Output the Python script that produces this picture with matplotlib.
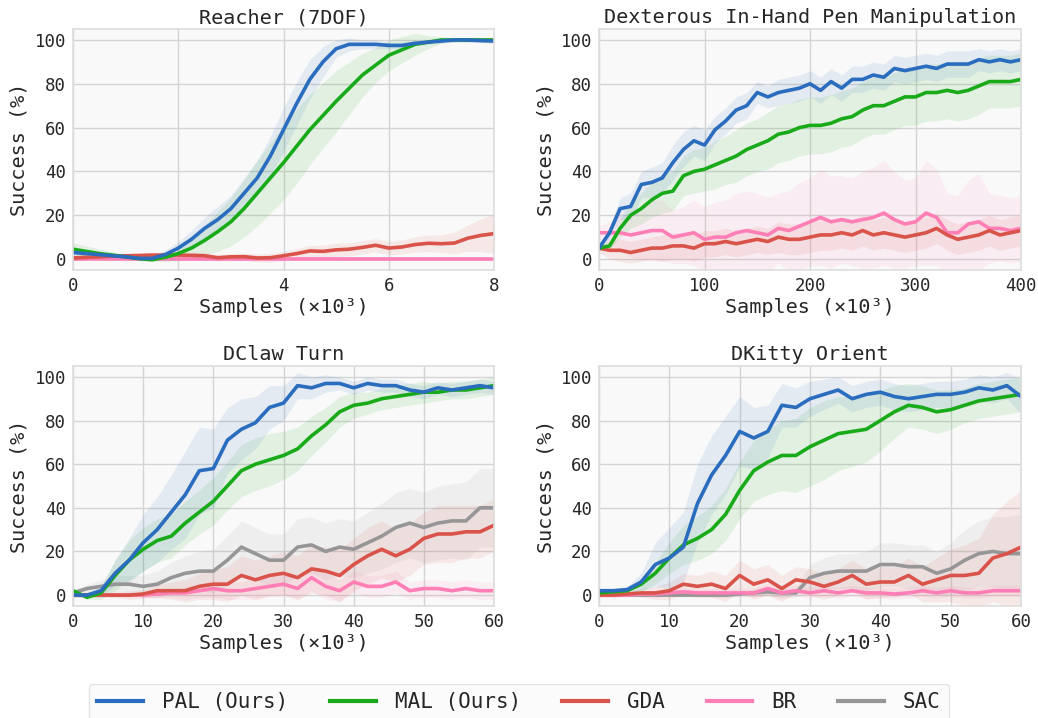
import matplotlib
matplotlib.use("Agg")
import matplotlib.pyplot as plt
import numpy as np

plt.rcParams['font.family'] = ['DejaVu Sans Mono', 'DejaVu Sans']
plt.rcParams['text.color'] = '#262626'
plt.rcParams['axes.labelcolor'] = '#262626'
plt.rcParams['xtick.color'] = '#262626'
plt.rcParams['ytick.color'] = '#262626'

methods = ['PAL (Ours)', 'MAL (Ours)', 'GDA', 'BR', 'SAC']
colors = ['#2a6cbe', '#19aa19', '#d9534a', '#ff7eb5', '#969696']

# ---- Reacher (7DOF), x in 1e3 samples, step 0.25
reach_x = np.arange(0, 8.01, 0.25)
reach_pal = [3, 2.5, 2, 1.5, 1, 0.3, 0.3, 2, 5, 9, 14, 18, 23, 30, 37, 47, 59, 71, 82, 90, 96,
             98, 98, 98, 97.5, 97.5, 98.5, 99, 99.5, 100, 100, 99.7, 99.5]
reach_pal_sd = [1, 1, 1, 1, 1, 0.5, 0.5, 2, 3, 4, 5, 6, 6, 7, 8, 9, 10, 10, 9, 7, 4,
                3, 2, 2, 1.5, 1.5, 1, 1, 1, 1, 1, 1, 1]
reach_mal = [4.5, 3.5, 2.5, 1.8, 1, 0.2, -0.3, 0.8, 2.5, 5, 8.5, 12.5, 17, 23, 30, 37, 44, 51.5, 59, 65.5, 72,
             78, 84, 88.5, 93, 95.5, 98, 99, 100, 100, 100, 100, 100]
reach_mal_sd = [3, 2.5, 2, 1.5, 1, 1, 1, 2, 3, 5, 7, 9, 11, 13, 15, 16, 17, 17, 16, 15, 14,
                12, 10, 8, 7, 6, 5, 3, 1.5, 1, 1, 1, 1]
reach_gda = [0.5, 0.8, 1, 1.3, 1.5, 1.6, 1.8, 1.8, 1.8, 1.7, 1.5, 0.6, 1, 1.1, 0.5, 0.6, 1.5, 2.5, 3.7, 3.5, 4.2,
             4.5, 5.3, 6.3, 5, 5.5, 6.6, 7.2, 7, 7.3, 9.5, 10.8, 11.6]
reach_gda_sd = [1, 1, 1, 1, 1, 1.2, 1.3, 1.4, 1.5, 1.5, 1.5, 1.5, 1.5, 1.6, 1.8, 2, 2, 2.2, 2.5, 2.8, 3,
                3, 3, 3, 3, 3.2, 3.5, 3.8, 4, 5, 6, 7.5, 9]
reach_br = [0] * 33
reach_br_sd = [0.7] * 33

# ---- Dexterous In-Hand Pen Manipulation, step 10
pen_x = np.arange(0, 401, 10)
pen_pal = [5, 12, 23, 24, 34, 35, 37, 44, 50, 54, 52, 59, 63, 68, 70, 76, 74, 76, 77, 78, 80,
           77, 81, 78, 82, 82, 84, 83, 87, 86, 87, 88, 87, 89, 89, 89, 91, 90, 91, 90, 91]
pen_pal_sd = [1, 3, 5, 6, 6, 7, 7, 8, 8, 7, 7, 6, 6, 6, 6, 5, 5, 6, 6, 6, 6,
              6, 6, 6, 6, 6, 6, 6, 6, 6, 6, 6, 6, 6, 6, 6, 5, 5, 5, 5, 5]
pen_mal = [5, 6, 14, 20, 23, 27, 30, 31, 38, 40, 41, 43, 45, 47, 50, 52, 54, 57, 58, 60, 61,
           61, 62, 64, 65, 68, 70, 70, 72, 74, 74, 76, 76, 77, 76, 77, 79, 81, 81, 81, 82]
pen_mal_sd = [1, 2, 4, 6, 7, 8, 9, 9, 9, 10, 10, 11, 11, 12, 12, 12, 13, 13, 13, 13, 13,
              13, 13, 13, 13, 13, 13, 13, 13, 13, 13, 13, 13, 13, 13, 13, 13, 12, 12, 12, 12]
pen_gda = [5, 4, 4, 3, 4, 5, 5, 6, 6, 5, 7, 7, 8, 7, 8, 9, 8, 10, 9, 9, 10,
           11, 11, 12, 11, 13, 11, 12, 11, 10, 11, 12, 14, 11, 9, 10, 11, 13, 11, 12, 13]
pen_gda_sd = [2, 4, 5, 5, 5, 5, 6, 6, 6, 6, 6, 6, 6, 6, 6, 6, 6, 7, 7, 7, 7,
              7, 7, 7, 7, 7, 7, 7, 7, 7, 7, 7, 7, 7, 7, 7, 7, 7, 7, 7, 7]
pen_br = [12, 12, 12, 11, 12, 13, 13, 10, 11, 12, 9, 10, 10, 12, 13, 12, 11, 14, 13, 15, 17,
          19, 17, 18, 17, 18, 19, 21, 18, 16, 17, 21, 19, 12, 12, 16, 17, 14, 14, 13, 14]
pen_br_sd = [3, 5, 8, 10, 12, 14, 14, 12, 13, 15, 15, 16, 17, 18, 18, 18, 17, 16, 18, 20, 20,
             22, 21, 20, 20, 22, 23, 24, 22, 20, 20, 24, 22, 18, 17, 20, 22, 16, 15, 15, 15]

# ---- DClaw Turn, step 2
claw_x = np.arange(0, 61, 2)
claw_pal = [0, 0, 2, 10, 16, 24, 30, 38, 46, 57, 58, 71, 76, 79, 86, 88,
            96, 95, 97, 97, 95, 97, 96, 96, 94, 93, 95, 94, 95, 96, 95]
claw_pal_sd = [1, 1, 2, 6, 10, 13, 15, 17, 20, 20, 18, 15, 14, 12, 10, 8,
               6, 5, 4, 3, 3, 3, 3, 3, 3, 3, 3, 3, 3, 3, 3]
claw_mal = [2, -1, 1, 9, 16, 21, 25, 27, 33, 38, 43, 50, 57, 60, 62, 64,
            67, 73, 78, 84, 87, 88, 90, 91, 92, 93, 93, 94, 94, 95, 96]
claw_mal_sd = [1, 1, 3, 7, 9, 10, 10, 10, 10, 10, 11, 11, 12, 12, 12, 11,
               10, 9, 8, 7, 6, 5, 5, 5, 5, 5, 4, 4, 4, 4, 4]
claw_gda = [0, 0, 0, 0, 0, 0.5, 2, 2, 2, 4, 5, 5, 9, 7, 9, 10,
            8, 12, 11, 9, 14, 18, 21, 18, 21, 26, 28, 28, 29, 29, 32]
claw_gda_sd = [1, 1, 1, 1, 2, 2, 3, 4, 5, 6, 7, 8, 9, 9, 9, 10,
               10, 11, 11, 12, 12, 13, 13, 12, 12, 12, 13, 13, 12, 12, 12]
claw_br = [0, 0, 0, 0, 0, 0, 0.5, 1, 1, 2, 3, 2, 2, 3, 4, 5,
           3, 8, 4, 2, 6, 4, 4, 6, 2, 3, 3, 2, 3, 2, 2]
claw_br_sd = [1, 1, 1, 1, 1, 1, 2, 2, 3, 3, 4, 4, 4, 5, 5, 5,
              5, 6, 6, 5, 5, 5, 5, 5, 4, 4, 4, 4, 4, 4, 4]
claw_sac = [1, 3, 4, 5, 5, 4, 5, 8, 10, 11, 11, 16, 22, 19, 16, 16,
            22, 23, 20, 22, 21, 24, 27, 31, 33, 31, 33, 34, 34, 40, 40]
claw_sac_sd = [1, 2, 3, 4, 4, 5, 6, 7, 8, 9, 10, 11, 12, 12, 12, 12,
               13, 13, 13, 13, 13, 14, 15, 16, 16, 16, 17, 17, 18, 18, 18]

# ---- DKitty Orient, step 2
kitty_x = np.arange(0, 61, 2)
kitty_pal = [2, 2, 2.5, 6, 14, 17, 22, 42, 55, 64, 75, 72, 75, 87, 86, 90,
             92, 94, 90, 92, 93, 91, 90, 91, 92, 92, 93, 95, 94, 96, 91]
kitty_pal_sd = [1, 1, 1.5, 4, 10, 14, 16, 18, 18, 18, 16, 14, 12, 10, 9, 8,
                7, 6, 6, 6, 6, 6, 6, 6, 6, 6, 6, 6, 6, 6, 8]
kitty_mal = [1, 1.5, 2, 5, 10, 17, 23, 26, 30, 37, 48, 57, 61, 64, 64, 68,
             71, 74, 75, 76, 80, 84, 87, 86, 84, 85, 87, 89, 90, 91, 92]
kitty_mal_sd = [1, 1, 1.5, 3, 5, 7, 9, 10, 11, 12, 13, 14, 15, 16, 17, 18,
                18, 17, 16, 15, 14, 12, 10, 10, 10, 9, 8, 8, 8, 8, 8]
kitty_gda = [0, 0, 0.5, 1, 1, 2, 5, 4, 5, 3, 9, 5, 7, 3, 7, 6,
             4, 6, 9, 5, 6, 6, 9, 5, 7, 9, 9, 10, 17, 19, 22]
kitty_gda_sd = [1, 1, 1, 2, 3, 4, 5, 5, 6, 6, 7, 7, 7, 6, 6, 6,
                6, 6, 7, 7, 7, 7, 8, 8, 10, 12, 14, 16, 20, 24, 26]
kitty_br = [0, 0, 0, 0.5, 0.5, 1, 1.5, 1, 1, 1, 1, 1, 3, 1, 2, 1,
            2, 1, 2, 1, 1, 0.5, 1, 2, 1, 2, 1, 1, 2, 2, 2]
kitty_br_sd = [1, 1, 1, 1, 1.5, 1.5, 2, 2, 2, 2, 2, 2, 2.5, 2.5, 2.5, 2.5,
               2.5, 2.5, 2.5, 2.5, 2.5, 2.5, 2.5, 2.5, 2.5, 2.5, 2.5, 2.5, 2.5, 2.5, 2.5]
kitty_sac = [0, 0, 0, 0, 0, 0, 0, 0, 0, 0, 0.5, 1, 1.5, 1, 1, 8,
             10, 11, 11, 11, 14, 14, 13, 13, 10, 12, 16, 19, 20, 19, 19]
kitty_sac_sd = [0.5, 0.5, 0.5, 0.5, 0.5, 0.5, 0.5, 0.5, 0.5, 1, 1, 1.5, 2, 2, 2, 6,
                7, 8, 8, 9, 10, 10, 10, 10, 10, 12, 14, 15, 16, 17, 18]

panels = [
    ('Reacher (7DOF)', reach_x, [0, 2, 4, 6, 8],
     [(reach_pal, reach_pal_sd), (reach_mal, reach_mal_sd), (reach_gda, reach_gda_sd),
      (reach_br, reach_br_sd), None]),
    ('Dexterous In-Hand Pen Manipulation', pen_x, [0, 100, 200, 300, 400],
     [(pen_pal, pen_pal_sd), (pen_mal, pen_mal_sd), (pen_gda, pen_gda_sd),
      (pen_br, pen_br_sd), None]),
    ('DClaw Turn', claw_x, [0, 10, 20, 30, 40, 50, 60],
     [(claw_pal, claw_pal_sd), (claw_mal, claw_mal_sd), (claw_gda, claw_gda_sd),
      (claw_br, claw_br_sd), (claw_sac, claw_sac_sd)]),
    ('DKitty Orient', kitty_x, [0, 10, 20, 30, 40, 50, 60],
     [(kitty_pal, kitty_pal_sd), (kitty_mal, kitty_mal_sd), (kitty_gda, kitty_gda_sd),
      (kitty_br, kitty_br_sd), (kitty_sac, kitty_sac_sd)]),
]

fig = plt.figure(figsize=(10.38, 7.18), dpi=100)
W, H = 1038, 718
boxes = [(73, 29, 494, 270), (599, 29, 1021, 270),
         (73, 366, 494, 606), (599, 366, 1021, 606)]

handles = {}
for (title, x, xt, series), (l, t, r, b) in zip(panels, boxes):
    ax = fig.add_axes([l / W, 1 - b / H, (r - l) / W, (b - t) / H])
    ax.set_facecolor('#f9f9f9')
    for s in ax.spines.values():
        s.set_color('#dddddd')
        s.set_linewidth(1.2)
    ax.grid(True, color='#d4d4d4', lw=1.0)
    ax.set_axisbelow(True)
    ax.tick_params(length=0, labelsize=12.5, pad=5)
    # draw SAC first so PAL ends up on top
    for i in range(4, -1, -1):
        if series[i] is None:
            continue
        m = np.array(series[i][0], dtype=float)
        sd = np.array(series[i][1], dtype=float)
        ax.fill_between(x, m - sd, m + sd, color=colors[i], alpha=0.1, lw=0)
        ln, = ax.plot(x, m, color=colors[i], lw=2.6, label=methods[i])
        handles[i] = ln
    ax.set_xlim(x[0], x[-1])
    ax.set_ylim(-5, 105)
    ax.set_xticks(xt)
    ax.set_yticks([0, 20, 40, 60, 80, 100])
    ax.set_title(title, fontsize=14.5, pad=4)
    ax.set_xlabel('Samples (×10³)', fontsize=14.5, labelpad=2)
    ax.set_ylabel('Success (%)', fontsize=14.5, labelpad=4)

leg = fig.legend([handles[i] for i in range(5)], methods, loc='upper center',
                 bbox_to_anchor=(0.5, 1 - 684 / H), ncol=5, fontsize=15,
                 frameon=True, fancybox=True, handlelength=2.2, columnspacing=2.0,
                 borderpad=0.4, handletextpad=0.9, borderaxespad=0)
leg.get_frame().set_facecolor('#fafafa')
leg.get_frame().set_edgecolor('#dddddd')
for ln in leg.get_lines():
    ln.set_linewidth(3)

fig.savefig('out.png', dpi=100)
